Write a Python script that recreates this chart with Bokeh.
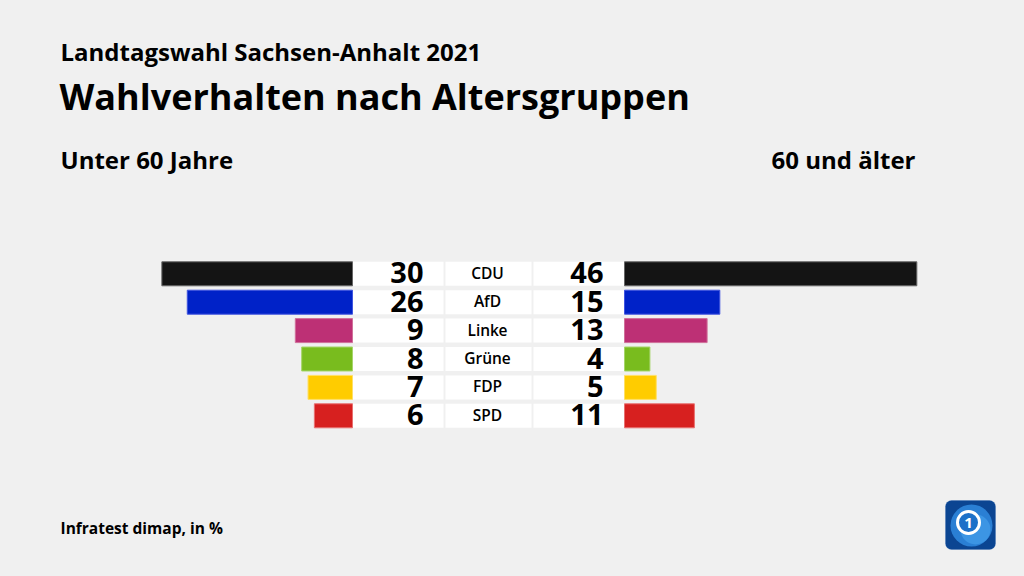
from bokeh.plotting import figure
from bokeh.models import Range1d, ColumnDataSource, BoxAnnotation
from bokeh.core.properties import value
from bokeh.embed import file_html
from bokeh.resources import INLINE

# ---- data ----
parties = ["CDU", "AfD", "Linke", "Grüne", "FDP", "SPD"]
unter60 = [30, 26, 9, 8, 7, 6]
ab60 = [46, 15, 13, 4, 5, 11]
colors = ["#141414", "#0022c8", "#bd3075", "#79bc1e", "#ffcc00", "#d7201f"]
outlines = ["#666666", "#4055e0", "#d0709a", "#a6d56a", "#ffe066", "#e87070"]

title_small = "Landtagswahl Sachsen-Anhalt 2021"
title_big = "Wahlverhalten nach Altersgruppen"
left_head = "Unter 60 Jahre"
right_head = "60 und älter"
source_note = "Infratest dimap, in %"

# ---- layout constants ----
W, H = 1024, 576
K = 6.355        # px per percentage point
PITCH = 28.4     # row pitch in px
X0 = 352.0       # left origin (px)
Y0 = 273.3       # first row centre (px from top)
GAP = 272.0 / K  # distance between the two origins in data units
FONT = "Open Sans"
SEMI = "'Open Sans SemiBold', 'Open Sans'"


def dx(px):
    return (px - X0) / K


def dy(py):
    return (py - Y0) / PITCH


rows = list(range(len(parties)))
src = ColumnDataSource(dict(
    y=rows,
    party=parties,
    u_left=[-v for v in unter60],
    zero=[0] * len(rows),
    o_left=[GAP] * len(rows),
    o_right=[GAP + v for v in ab60],
    u_txt=[str(v) for v in unter60],
    o_txt=[str(v) for v in ab60],
    color=colors,
    outline=outlines,
))

p = figure(width=W, height=H,
           x_range=Range1d(-X0 / K, (W - X0) / K),
           y_range=Range1d(start=(H - Y0) / PITCH, end=-Y0 / PITCH),
           output_backend="svg", toolbar_location=None,
           x_axis_location=None, y_axis_location=None,
           min_border=0, background_fill_color="#f0f0f0",
           border_fill_color="#f0f0f0", outline_line_color=None)
p.grid.visible = False

BH = 24 / PITCH

# white boxes
for l, r in [(dx(352), dx(443)), (dx(445), dx(531)), (dx(533), dx(624))]:
    p.hbar(y="y", left=l, right=r, height=BH, source=src,
           fill_color="white", line_color=None)

# bars
p.hbar(y="y", left="u_left", right="zero", height=BH, source=src,
       fill_color="color", line_color="outline", line_width=1)
p.hbar(y="y", left="o_left", right="o_right", height=BH, source=src,
       fill_color="color", line_color="outline", line_width=1)

# numbers
p.text(x=dx(423), y="y", text="u_txt", source=src, text_align="right",
       text_baseline="middle", text_font=value(FONT), text_font_size="29px",
       text_font_style="bold", text_color="#000000", y_offset=-1)
p.text(x=dx(603), y="y", text="o_txt", source=src, text_align="right",
       text_baseline="middle", text_font=value(FONT), text_font_size="29px",
       text_font_style="bold", text_color="#000000", y_offset=-1)
# party labels
p.text(x=dx(487), y="y", text="party", source=src, text_align="center",
       text_baseline="middle", text_font=value(SEMI), text_font_size="15.5px",
       text_font_style="normal", text_color="#000000", y_offset=-1)


def label(txt, x, y, size, align="left", style="bold", color="#000000"):
    p.text(x=[x], y=[y], text=[txt], text_align=align,
           text_baseline="middle", text_font=value(FONT),
           text_font_size=size, text_font_style=style, text_color=color)


label(title_small, dx(60), dy(51), "24px")
label(title_big, dx(59), dy(96), "36px")
label(left_head, dx(60), dy(159), "24px")
label(right_head, dx(915), dy(159), "24px", align="right")
label(source_note, dx(60), dy(527), "15.5px")

# logo (rounded square, globe, ring with "1")
p.add_layout(BoxAnnotation(left=dx(945), right=dx(995), top=dy(500),
                           bottom=dy(549), fill_color="#0b4592", fill_alpha=1,
                           line_color="#2a62b0", line_width=1,
                           border_radius=6, level="underlay"))
p.scatter(x=[dx(971)], y=[dy(525)], size=42, marker="circle",
          fill_color="#2a7fd4", line_color=None)
p.scatter(x=[dx(975)], y=[dy(529)], size=30, marker="circle",
          fill_color="#3c95e4", line_color=None)
p.scatter(x=[dx(968)], y=[dy(522)], size=22, marker="circle",
          fill_color="#1c70c8", line_color="white", line_width=3)
p.text(x=[dx(968)], y=[dy(522)], text=["1"], text_align="center",
       text_baseline="middle", text_font=value(FONT), text_font_size="15px",
       text_font_style="bold", text_color="white")

html = file_html(p, INLINE)
html = html.replace("</head>",
                    "<style>html,body{margin:0;padding:0;background:#f0f0f0;"
                    "overflow:hidden;}</style></head>", 1)
open("out.html", "w").write(html)
